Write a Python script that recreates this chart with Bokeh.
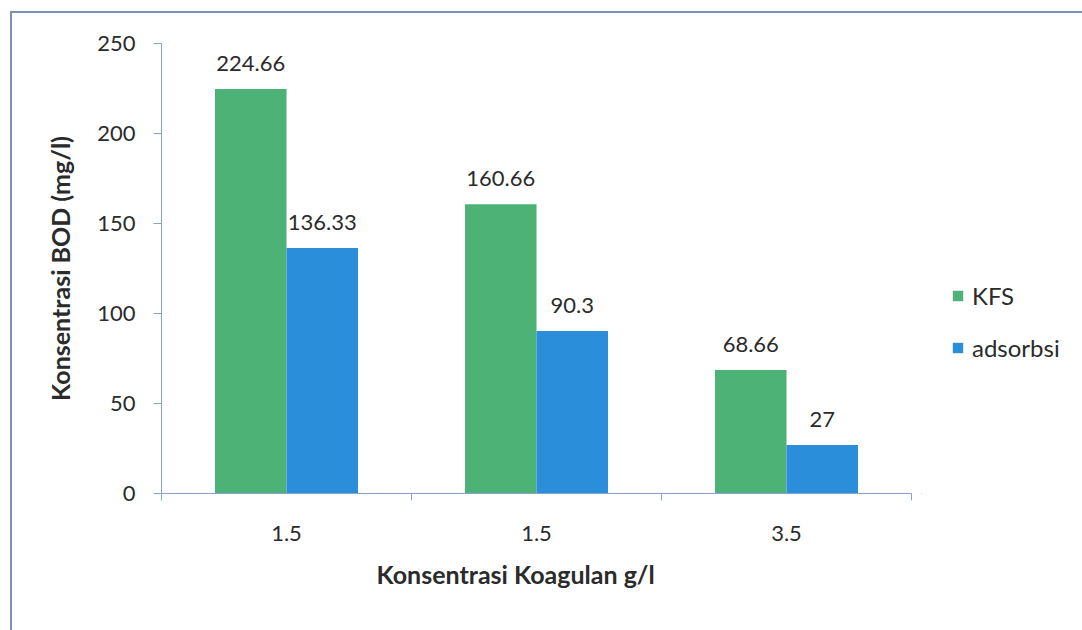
from bokeh.plotting import figure
from bokeh.layouts import row
from bokeh.models import (ColumnDataSource, FixedTicker, Range1d, Legend, LegendItem,
                          LabelSet, Title)
from bokeh.core.properties import value
from bokeh.embed import file_html
from bokeh.resources import INLINE

# Data
categories = ["1.5", "1.5", "3.5"]
series_names = ["KFS", "adsorbsi"]
kfs_values = [224.66, 160.66, 68.66]
adsorbsi_values = [136.33, 90.3, 27]
kfs_labels = ["224.66", "160.66", "68.66"]
adsorbsi_labels = ["136.33", "90.3", "27"]
y_ticks = [0, 50, 100, 150, 200, 250]

GREEN = "#4db276"
BLUE = "#2b8edb"
AXIS = "#8aa2c8"
FONT = "Lato"
TEXT = "#2b2b2b"

centers = [i + 0.5 for i in range(len(categories))]
bar_w = 0.286

kfs_src = ColumnDataSource(dict(x=[c - bar_w / 2 for c in centers], top=kfs_values,
                                label=kfs_labels))
ads_src = ColumnDataSource(dict(x=[c + bar_w / 2 for c in centers], top=adsorbsi_values,
                                label=adsorbsi_labels))

# main chart
p = figure(width=909, height=617, output_backend="svg", toolbar_location=None,
           x_range=Range1d(0, len(categories)), y_range=Range1d(0, 250),
           min_border_left=149, min_border_right=10, min_border_top=30,
           min_border_bottom=137)
p.outline_line_color = None
p.grid.visible = False
p.background_fill_color = "white"
p.border_fill_color = "white"

p.vbar(x="x", top="top", width=bar_w, bottom=0, source=kfs_src,
       fill_color=GREEN, line_color=None)
p.vbar(x="x", top="top", width=bar_w, bottom=0, source=ads_src,
       fill_color=BLUE, line_color=None)

for src in (kfs_src, ads_src):
    p.add_layout(LabelSet(x="x", y="top", text="label", source=src,
                          text_align="center", text_baseline="alphabetic",
                          y_offset=18, text_font=value(FONT), text_font_size=value("22px"),
                          text_color=TEXT))

# x axis: category boundaries as ticks, names at the centres
xa = p.xaxis[0]
xa.ticker = FixedTicker(ticks=centers, minor_ticks=list(range(len(categories) + 1)))
xa.major_label_overrides = {c: name for c, name in zip(centers, categories)}
xa.major_tick_out = 0
xa.major_tick_in = 0
xa.minor_tick_out = 7
xa.minor_tick_in = 0
xa.minor_tick_line_color = AXIS
xa.axis_line_color = AXIS
xa.major_label_standoff = 25
xa.major_label_text_font = FONT
xa.major_label_text_font_size = "22px"
xa.major_label_text_color = TEXT

p.add_layout(Title(text="Konsentrasi Koagulan g/l", align="left", offset=215,
                   text_font=FONT, text_font_style="bold", text_font_size="25px",
                   text_color=TEXT, standoff=26), "below")

ya = p.yaxis[0]
ya.ticker = FixedTicker(ticks=y_ticks)
ya.minor_tick_line_color = None
ya.major_tick_out = 8
ya.major_tick_in = 0
ya.major_tick_line_color = AXIS
ya.axis_line_color = AXIS
ya.major_label_standoff = 18
ya.major_label_text_font = FONT
ya.major_label_text_font_size = "22px"
ya.major_label_text_color = TEXT
ya.axis_label = "Konsentrasi BOD (mg/l)"
ya.axis_label_text_font = FONT
ya.axis_label_text_font_style = "bold"
ya.axis_label_text_font_size = "25px"
ya.axis_label_text_color = TEXT
ya.axis_label_standoff = 19

# legend panel: swatches come from the same sources, kept outside the visible range
q = figure(width=161, height=617, output_backend="svg", toolbar_location=None,
           x_range=Range1d(10, 11), y_range=Range1d(1000, 1001),
           min_border=0)
q.axis.visible = False
q.grid.visible = False
q.outline_line_color = None
q.border_fill_color = "white"
q_kfs = q.vbar(x="x", top="top", width=bar_w, bottom=0, source=kfs_src,
               fill_color=GREEN, line_color=None)
q_ads = q.vbar(x="x", top="top", width=bar_w, bottom=0, source=ads_src,
               fill_color=BLUE, line_color=None)

legend = Legend(items=[LegendItem(label=series_names[0], renderers=[q_kfs]),
                       LegendItem(label=series_names[1], renderers=[q_ads])],
                location=(30, 131), orientation="vertical",
                glyph_width=13, glyph_height=13, label_standoff=8,
                spacing=23, padding=0, margin=0,
                label_text_font=FONT, label_text_font_size="24px",
                label_text_color=TEXT, border_line_color=None,
                background_fill_alpha=0)
q.add_layout(legend, "center")

layout = row(p, q, spacing=0)
layout.margin = (11, 0, 0, 10)
layout.styles = {"border-left": "2px solid #7a91b8", "border-top": "2px solid #7a91b8"}

open("out.html", "w").write(file_html(layout, INLINE))
